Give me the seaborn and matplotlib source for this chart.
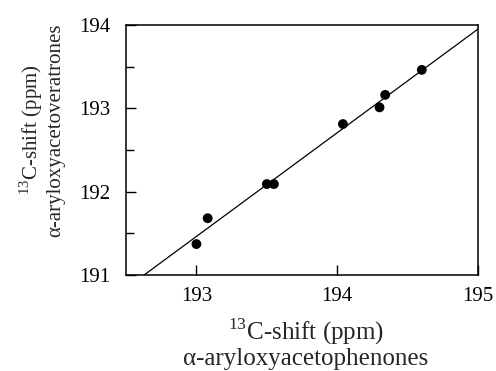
import matplotlib
matplotlib.use("Agg")
import matplotlib.pyplot as plt
import seaborn as sns
import pandas as pd
from matplotlib.ticker import MultipleLocator

# Data
acetophenones = [193.00, 193.08, 193.50, 193.55, 194.04, 194.30, 194.34, 194.60]
acetoveratrones = [191.37, 191.68, 192.09, 192.09, 192.81, 193.01, 193.16, 193.46]
x_ticks = [193, 194, 195]
y_ticks = [191, 192, 193, 194]

df = pd.DataFrame({"x": acetophenones, "y": acetoveratrones})

sns.set_theme(style="ticks")
plt.rcParams["font.family"] = ["Liberation Serif", "DejaVu Serif"]
plt.rcParams["mathtext.fontset"] = "custom"
plt.rcParams["mathtext.rm"] = "Liberation Serif"

fig = plt.figure(figsize=(4.96, 3.71), dpi=100)
ax = fig.add_axes([0.254, 0.259, 0.710, 0.674])
ax.set_xlim(192.5, 195)
ax.set_ylim(191, 194)

sns.regplot(data=df, x="x", y="y", ax=ax, ci=None, truncate=False, color="black",
            scatter_kws=dict(s=50, alpha=1, edgecolor="none", zorder=3),
            line_kws=dict(color="black", lw=0.9))
ax.set_xlim(192.5, 195)
ax.set_ylim(191, 194)

ax.set_xticks(x_ticks)
ax.set_yticks(y_ticks)
ax.yaxis.set_minor_locator(MultipleLocator(0.5))
ax.tick_params(axis="both", which="both", direction="in", labelsize=15,
               colors="black", width=1.0)
ax.tick_params(axis="both", which="major", length=7)
ax.tick_params(axis="x", which="major", pad=9)
ax.tick_params(axis="y", which="major", pad=11)
ax.tick_params(axis="y", which="minor", length=6)
for sp in ax.spines.values():
    sp.set_linewidth(1.1)
    sp.set_color("black")

ax.set_xlabel("$^{13}$C-shift (ppm)\n\u03b1-aryloxyacetophenones", fontsize=18,
              linespacing=1.05)
ax.set_ylabel("$^{13}$C-shift (ppm)\n\u03b1-aryloxyacetoveratrones", fontsize=15,
              linespacing=1.1)
ax.xaxis.set_label_coords(0.511, -0.168, transform=ax.transAxes)
ax.xaxis.label.set_verticalalignment("top")
ax.yaxis.set_label_coords(-0.173, 0.58, transform=ax.transAxes)

fig.savefig("out.png", dpi=100)
